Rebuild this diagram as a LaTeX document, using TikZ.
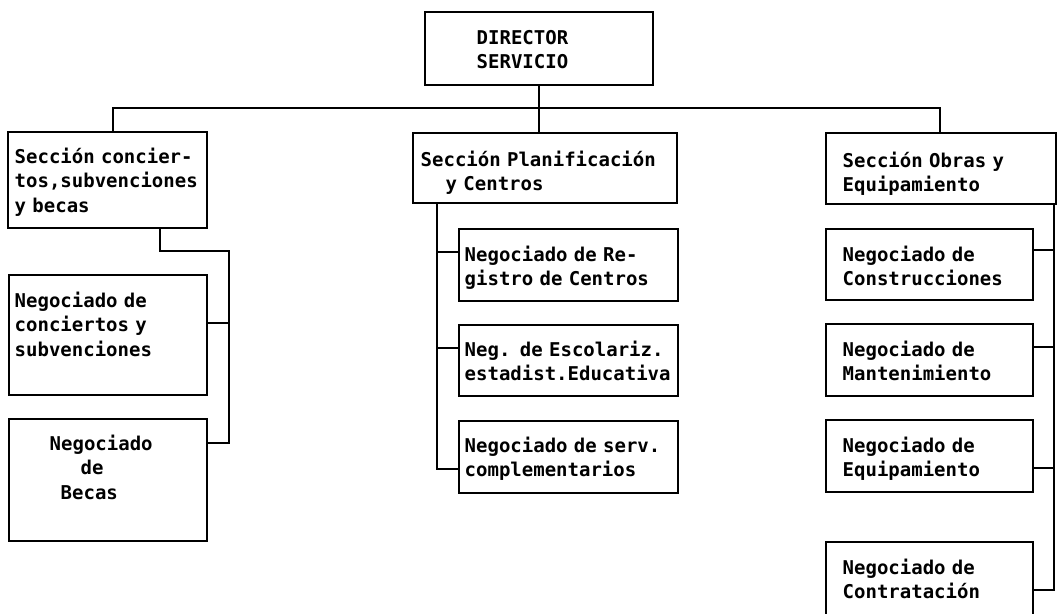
\documentclass[tikz,border=0pt]{standalone}
\usepackage{fontspec}
\newfontfamily\orgmono{DejaVu Sans Mono}
\usetikzlibrary{fit}
\newcommand\fl{\rule{0pt}{17pt}}
\tikzset{
  orgbox/.style={draw, line width=1.7pt, inner sep=0pt, rectangle},
  orgtxt/.style={anchor=north west, inner sep=0pt, text width=250pt, align=left,
    font=\orgmono\bfseries\fontsize{19}{24.5}\selectfont},
  link/.style={line width=1.7pt, line cap=rect}
}
\begin{document}
\begin{tikzpicture}[x=1pt,y=-1pt]
\useasboundingbox (0,0) rectangle (1057,613);
\clip (0,0) rectangle (1057,613);
% boxes
\node[orgbox, fit={(425,12) (653,85)}] (dir) {};
\node[orgbox, fit={(8,132) (207,228)}] (s1) {};
\node[orgbox, fit={(413,133) (677,203)}] (s2) {};
\node[orgbox, fit={(826,133) (1056,204)}] (s3) {};
\node[orgbox, fit={(9,275) (207,395)}] (n11) {};
\node[orgbox, fit={(9,419) (207,541)}] (n12) {};
\node[orgbox, fit={(459,229) (678,301)}] (n21) {};
\node[orgbox, fit={(459,325) (678,396)}] (n22) {};
\node[orgbox, fit={(459,421) (678,493)}] (n23) {};
\node[orgbox, fit={(826,229) (1033,300)}] (n31) {};
\node[orgbox, fit={(826,324) (1033,396)}] (n32) {};
\node[orgbox, fit={(826,420) (1033,492)}] (n33) {};
\node[orgbox, fit={(826,542) (1033,620)}] (n34) {};
% texts
\node[orgtxt] (tdir) at (476.5,27) {\fl DIRECTOR\\SERVICIO};
\node[orgtxt] (ts1) at (14.5,146) {\fl Sección concier-\\tos,subvenciones\\y becas};
\node[orgtxt] (ts2) at (420.5,149) {\fl Sección Planificación\\\hspace*{25pt}y Centros};
\node[orgtxt] (ts3) at (842.5,150) {\fl Sección Obras y\\Equipamiento};
\node[orgtxt] (tn11) at (14.5,290) {\fl Negociado de\\conciertos y\\subvenciones};
\node[orgtxt] (tn12) at (49.5,433) {\fl Negociado\\\hspace*{31pt}de\\\hspace*{11pt}Becas};
\node[orgtxt] (tn21) at (464.5,244) {\fl Negociado de Re-\\gistro de Centros};
\node[orgtxt] (tn22) at (464.5,339) {\fl Neg. de Escolariz.\\estadist.Educativa};
\node[orgtxt] (tn23) at (464.5,435) {\fl Negociado de serv.\\complementarios};
\node[orgtxt] (tn31) at (842.5,244) {\fl Negociado de\\Construcciones};
\node[orgtxt] (tn32) at (842.5,339) {\fl Negociado de\\Mantenimiento};
\node[orgtxt] (tn33) at (842.5,435) {\fl Negociado de\\Equipamiento};
\node[orgtxt] (tn34) at (842.5,557) {\fl Negociado de\\Contratación};
% bend points
\coordinate (busL) at (113,108);
\coordinate (busR) at (940,108);
\coordinate (a1) at (160,228);
\coordinate (b1) at (160,251);
\coordinate (v1) at (229,251);
\coordinate (e11) at (207,323);
\coordinate (e12) at (207,443);
\coordinate (a2) at (437,203);
\coordinate (e21) at (459,252);
\coordinate (e22) at (459,348);
\coordinate (e23) at (459,469);
\coordinate (a3) at (1054,204);
\coordinate (e31) at (1033,250);
\coordinate (e32) at (1033,347);
\coordinate (e33) at (1033,468);
\coordinate (e34) at (1033,590);
% connectors
\draw[link] (dir.south) -- (dir.south |- s2.north);
\draw[link] (s1.north -| busL) -- (busL) -- (busR) -- (s3.north -| busR);
\draw[link] (a1) -- (b1) -- (v1) |- (e12);
\draw[link] (e11) -- (e11 -| v1);
\draw[link] (a2) |- (e23);
\draw[link] (e21) -- (e21 -| a2);
\draw[link] (e22) -- (e22 -| a2);
\draw[link] (a3) |- (e34);
\draw[link] (e31) -- (e31 -| a3);
\draw[link] (e32) -- (e32 -| a3);
\draw[link] (e33) -- (e33 -| a3);
\end{tikzpicture}
\end{document}
